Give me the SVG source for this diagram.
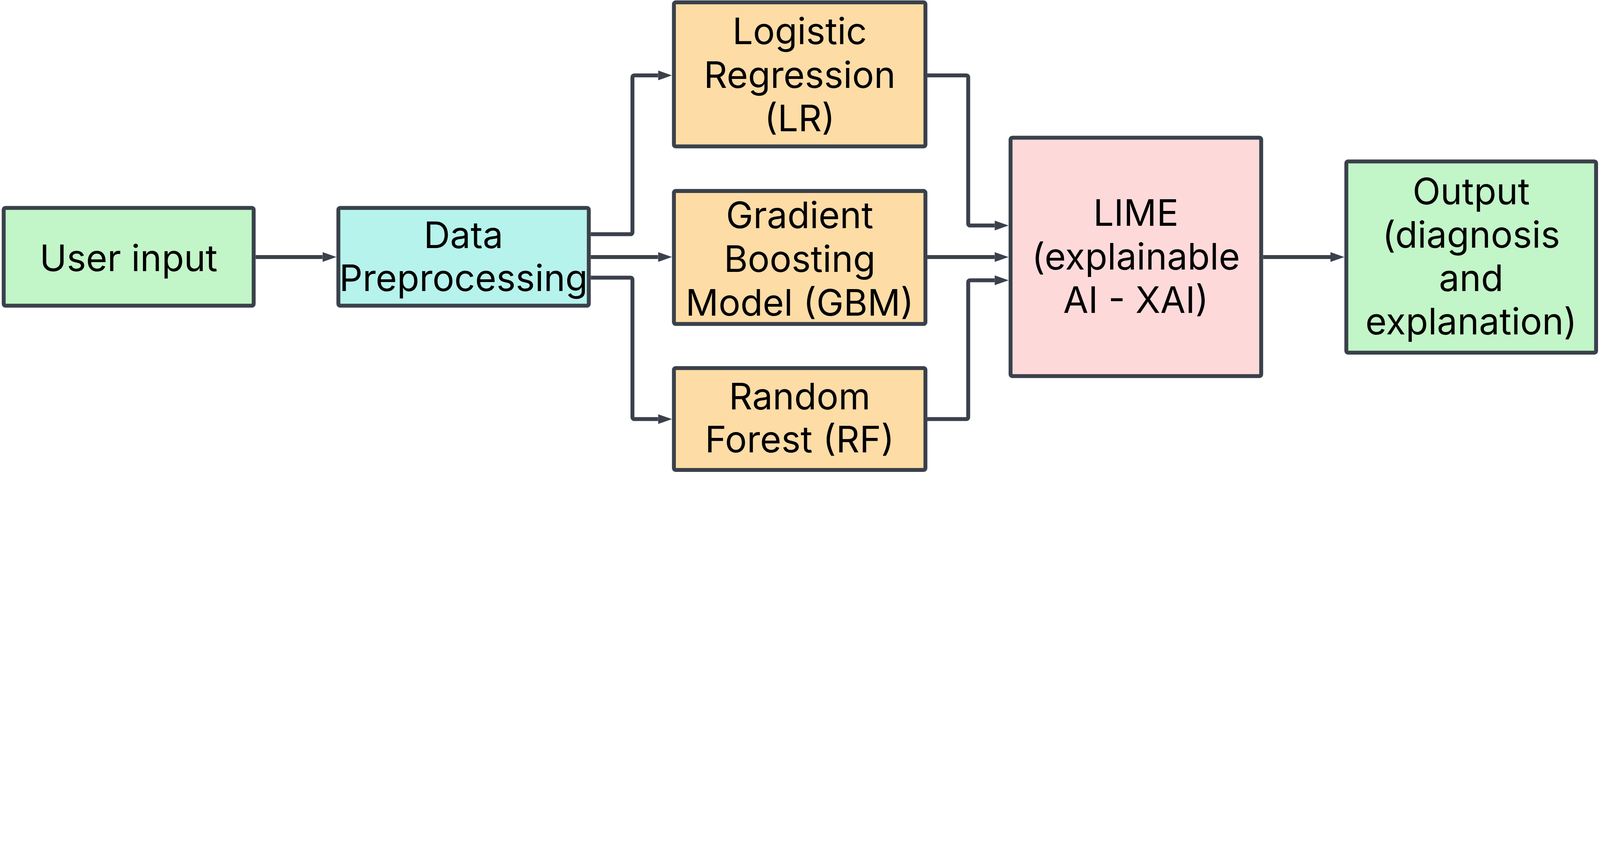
<svg xmlns="http://www.w3.org/2000/svg" width="7367" height="2181" viewBox="0 0 7367 2181" style="max-width:100vw;height:auto">
<style>
.box{stroke:#3A414B;stroke-width:18}
.green{fill:#C2F5C7}
.teal{fill:#B6F3EC}
.orange{fill:#FDDCA6}
.pink{fill:#FED9DA}
.lbl{font-family:Inter,"Noto Sans","Liberation Sans",sans-serif;font-size:168px;fill:#000;text-anchor:middle}
.edge{fill:none;stroke:#3A414B;stroke-width:18}
</style>
<defs>
<marker id="ah" markerUnits="userSpaceOnUse" markerWidth="64" markerHeight="45" viewBox="0 0 64 45" refX="0" refY="22.5" orient="auto">
<path d="M0,0 L64,22.5 L0,45 z" fill="#3A414B"/>
</marker>
</defs>
<rect width="7367" height="2181" fill="#FFFFFF"/>
<g id="connectors">
<path class="edge" marker-end="url(#ah)" d="M1177,1183 H1485"/>
<path class="edge" marker-end="url(#ah)" d="M2720,1078 H2902 Q2912,1078 2912,1068 V357 Q2912,347 2922,347 H3030"/>
<path class="edge" marker-end="url(#ah)" d="M2720,1183 H3030"/>
<path class="edge" marker-end="url(#ah)" d="M2720,1278 H2902 Q2912,1278 2912,1288 V1919 Q2912,1929 2922,1929 H3030"/>
<path class="edge" marker-end="url(#ah)" d="M4270,347 H4448 Q4458,347 4458,357 V1028 Q4458,1038 4468,1038 H4580"/>
<path class="edge" marker-end="url(#ah)" d="M4270,1183 H4580"/>
<path class="edge" marker-end="url(#ah)" d="M4270,1929 H4448 Q4458,1929 4458,1919 V1300 Q4458,1290 4468,1290 H4580"/>
<path class="edge" marker-end="url(#ah)" d="M5816,1183 H6126"/>
</g>
<g id="user-input">
<rect class="box green" x="17" y="957" width="1151" height="450" rx="8"/>
<text class="lbl" x="592" y="1247">User input</text>
</g>
<g id="data-preprocessing">
<rect class="box teal" x="1558" y="957" width="1153" height="450" rx="8"/>
<text class="lbl" x="2134" y="1141">Data</text>
<text class="lbl" x="2134" y="1340">Preprocessing</text>
</g>
<g id="logistic-regression">
<rect class="box orange" x="3103" y="11" width="1158" height="663" rx="8"/>
<text class="lbl" x="3682" y="204">Logistic</text>
<text class="lbl" x="3682" y="404">Regression</text>
<text class="lbl" x="3682" y="604">(LR)</text>
</g>
<g id="gradient-boosting">
<rect class="box orange" x="3103" y="879" width="1158" height="612" rx="8"/>
<text class="lbl" x="3682" y="1050">Gradient</text>
<text class="lbl" x="3682" y="1251">Boosting</text>
<text class="lbl" x="3682" y="1452">Model (GBM)</text>
</g>
<g id="random-forest">
<rect class="box orange" x="3103" y="1694" width="1158" height="469" rx="8"/>
<text class="lbl" x="3682" y="1885">Random</text>
<text class="lbl" x="3682" y="2083">Forest (RF)</text>
</g>
<g id="lime">
<rect class="box pink" x="4653" y="634" width="1154" height="1097" rx="8"/>
<text class="lbl" x="5230" y="1040">LIME</text>
<text class="lbl" x="5230" y="1240">(explainable</text>
<text class="lbl" x="5230" y="1440">AI - XAI)</text>
</g>
<g id="output">
<rect class="box green" x="6199" y="743" width="1150" height="880" rx="8"/>
<text class="lbl" x="6774" y="940">Output</text>
<text class="lbl" x="6774" y="1140">(diagnosis</text>
<text class="lbl" x="6774" y="1340">and</text>
<text class="lbl" x="6774" y="1540">explanation)</text>
</g>
</svg>
